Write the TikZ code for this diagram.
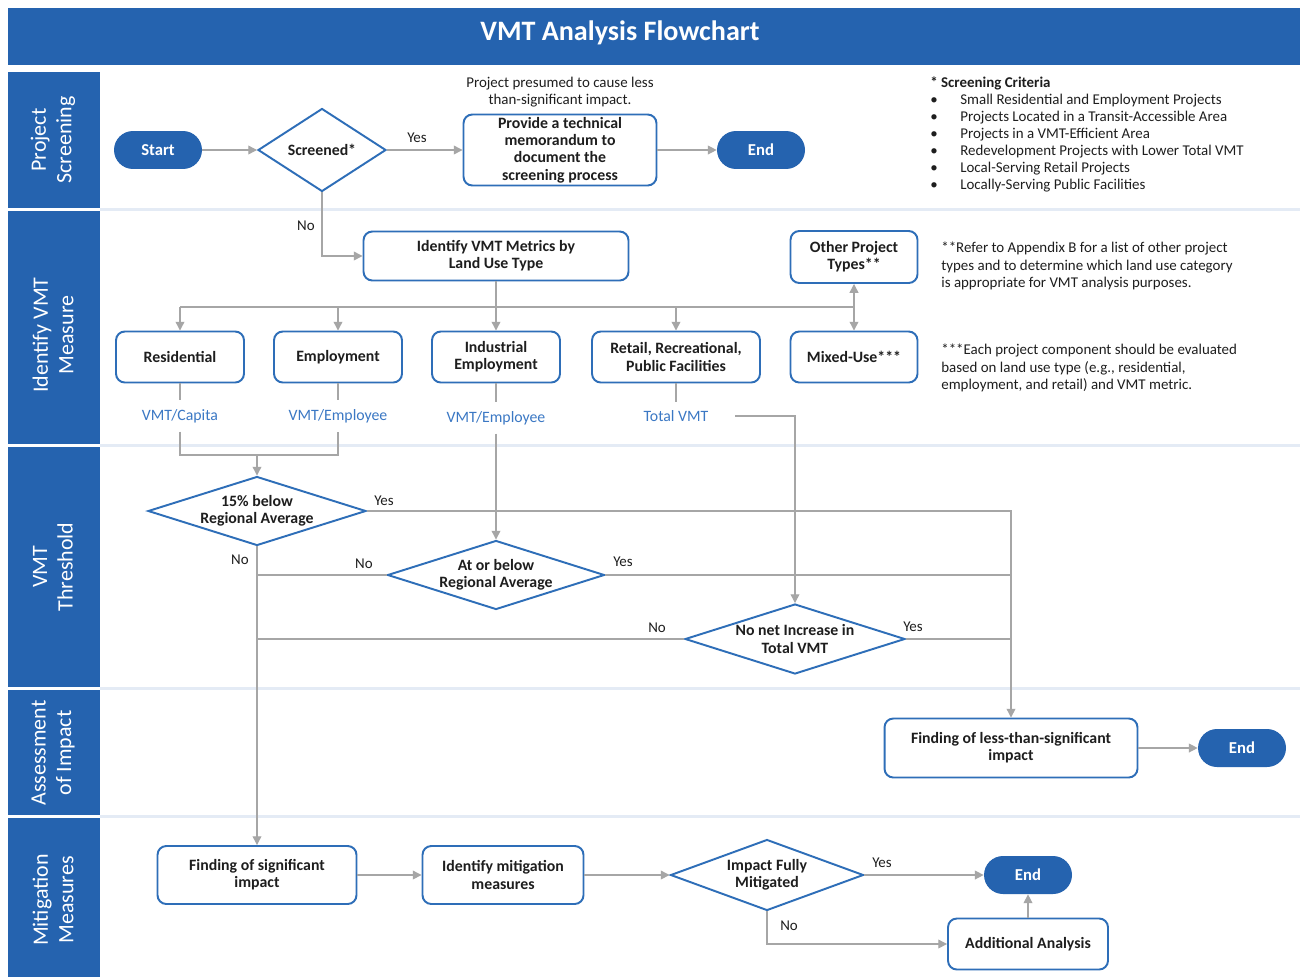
\documentclass[tikz,border=0pt]{standalone}
\usepackage{fontspec}
\setmainfont{Carlito}
\usetikzlibrary{arrows.meta,shapes.geometric}

\definecolor{barblue}{RGB}{37,99,175}
\definecolor{boxblue}{RGB}{46,110,184}
\definecolor{metricblue}{RGB}{59,120,196}
\definecolor{linegray}{RGB}{166,166,166}
\definecolor{lanerule}{RGB}{228,235,245}
\definecolor{inkdark}{RGB}{30,30,30}

\begin{document}
\begin{tikzpicture}[x=0.02cm, y=-0.02cm,
    box/.style={draw=boxblue, line width=1.1pt, rounded corners=5pt, fill=white, align=center,
      text=inkdark, font=\bfseries\fontsize{9}{9.8}\selectfont, inner sep=1pt},
    pill/.style={fill=barblue, rounded corners=0.38cm, minimum width=1.76cm, minimum height=0.76cm,
      text=white, font=\bfseries\fontsize{9.5}{11}\selectfont},
    choice/.style={diamond, draw=boxblue, line width=1.1pt, fill=white, align=center,
      text=inkdark, font=\bfseries\fontsize{9}{9.8}\selectfont, inner sep=0pt},
    wire/.style={draw=linegray, line width=0.7pt},
    conn/.style={wire, -{Triangle[length=5pt,width=5pt]}},
    twoway/.style={wire, {Triangle[length=5pt,width=5pt]}-{Triangle[length=5pt,width=5pt]}},
    lbl/.style={text=inkdark, font=\fontsize{8.5}{10}\selectfont, inner sep=1pt},
    note/.style={text=inkdark, font=\fontsize{8.5}{9.7}\selectfont, align=left, anchor=north west, inner sep=0pt},
    metric/.style={text=metricblue, font=\fontsize{9}{10}\selectfont, inner sep=1pt, outer sep=4pt},
    lanetext/.style={rotate=90, text=white, align=center, font=\fontsize{12.5}{14.5}\selectfont}
  ]
  \useasboundingbox (0,0) rectangle (1300,977);
  \fill[white] (0,0) rectangle (1300,977);

  \fill[barblue] (8,8) rectangle (1300,65);
  \node[text=white, font=\bfseries\fontsize{16}{19}\selectfont] (title) at (620,33) {VMT Analysis Flowchart};

  \fill[barblue] (8,72) rectangle (100,208);
  \fill[barblue] (8,211) rectangle (100,444);
  \fill[barblue] (8,447) rectangle (100,687);
  \fill[barblue] (8,690) rectangle (100,815);
  \fill[barblue] (8,818) rectangle (100,977);
  \node[lanetext] (lane1) at (53,140) {Project\\Screening};
  \node[lanetext] (lane2) at (53,335) {Identify VMT\\Measure};
  \node[lanetext] (lane3) at (53,567) {VMT\\Threshold};
  \node[lanetext] (lane4) at (53,753) {Assessment\\of Impact};
  \node[lanetext] (lane5) at (53,900) {Mitigation\\Measures};
  \draw[lanerule, line width=1.2pt] (100,209.5) -- (1300,209.5);
  \draw[lanerule, line width=1.2pt] (100,445.5) -- (1300,445.5);
  \draw[lanerule, line width=1.2pt] (100,688.5) -- (1300,688.5);
  \draw[lanerule, line width=1.2pt] (100,816.5) -- (1300,816.5);

  \node[pill] (start) at (158,150) {Start};
  \node[choice, minimum width=2.56cm, minimum height=1.66cm, aspect=1.54] (scr) at (322,150) {Screened*};
  \node[box, minimum width=3.86cm, minimum height=1.42cm] (memo) at (560,150) {Provide a technical\\memorandum to\\document the\\screening process};
  \node[lbl, align=center] (memonote) at (560,92) {Project presumed to cause less\\than-significant impact.};
  \node[pill] (end1) at (761,150) {End};
  \node[note] (criteria) at (930,76) {\textbf{* Screening Criteria}\\
    \makebox[0.6cm][l]{\textbullet}Small Residential and Employment Projects\\
    \makebox[0.6cm][l]{\textbullet}Projects Located in a Transit-Accessible Area\\
    \makebox[0.6cm][l]{\textbullet}Projects in a VMT-Efficient Area\\
    \makebox[0.6cm][l]{\textbullet}Redevelopment Projects with Lower Total VMT\\
    \makebox[0.6cm][l]{\textbullet}Local-Serving Retail Projects\\
    \makebox[0.6cm][l]{\textbullet}Locally-Serving Public Facilities};

  \node[box, minimum width=5.30cm, minimum height=0.98cm] (ident) at (496,256) {Identify VMT Metrics by\\Land Use Type};
  \node[box, minimum width=2.54cm, minimum height=1.04cm] (other) at (854,257) {Other Project\\Types**};
  \node[note] (note2) at (941,242) {**Refer to Appendix B for a list of other project\\types and to determine which land use category\\is appropriate for VMT analysis purposes.};
  \node[box, minimum width=2.56cm, minimum height=1.02cm] (res) at (180,357) {Residential};
  \node[box, minimum width=2.56cm, minimum height=1.02cm] (emp) at (338,357) {Employment};
  \node[box, minimum width=2.56cm, minimum height=1.02cm] (ind) at (496,357) {Industrial\\Employment};
  \node[box, minimum width=3.36cm, minimum height=1.02cm] (retail) at (676,357) {Retail, Recreational,\\Public Facilities};
  \node[box, minimum width=2.54cm, minimum height=1.02cm] (mixed) at (854,357) {Mixed-Use***};
  \node[note] (note3) at (941,344) {***Each project component should be evaluated\\based on land use type (e.g., residential,\\employment, and retail) and VMT metric.};
  \node[metric] (mres) at (180,416) {VMT/Capita};
  \node[metric] (memp) at (338,416) {VMT/Employee};
  \node[metric] (mind) at (496,418) {VMT/Employee};
  \node[metric] (mtot) at (676,416) {Total VMT};

  \node[choice, minimum width=4.36cm, minimum height=1.38cm, aspect=3.16] (d15) at (257,511) {15\% below\\Regional Average};
  \node[choice, minimum width=4.34cm, minimum height=1.38cm, aspect=3.14] (dreg) at (496,575) {At or below\\Regional Average};
  \node[choice, minimum width=4.40cm, minimum height=1.40cm, aspect=3.14] (dnet) at (795,639) {No net Increase in\\Total VMT};

  \node[box, minimum width=5.06cm, minimum height=1.18cm] (less) at (1011,748) {Finding of less-than-significant\\impact};
  \node[pill] (end2) at (1242,748) {End};

  \node[box, minimum width=3.98cm, minimum height=1.16cm] (sig) at (257,875) {Finding of significant\\impact};
  \node[box, minimum width=3.22cm, minimum height=1.16cm] (mitig) at (503,875) {Identify mitigation\\measures};
  \node[choice, minimum width=3.86cm, minimum height=1.42cm, aspect=2.72] (dfull) at (767,875) {Impact Fully\\Mitigated};
  \node[pill] (end3) at (1028,875) {End};
  \node[box, minimum width=3.20cm, minimum height=1.02cm] (addl) at (1028,944) {Additional Analysis};

  \coordinate (bus) at (496,307);
  \coordinate (join15) at (257,455);

  \draw[conn] (start) -- (scr);
  \draw[conn] (scr) -- (memo);
  \draw[conn] (memo) -- (end1);
  \draw[conn] (scr.south) |- (ident.west);
  \draw[wire] (ident.south) -- (bus);
  \draw[wire] (res.north |- bus) -- (mixed.north |- bus);
  \foreach \b in {res,emp,ind,retail}
    \draw[conn] (\b.north |- bus) -- (\b.north);
  \draw[twoway] (other.south) -- (mixed.north);
  \foreach \b/\m in {res/mres,emp/memp,ind/mind,retail/mtot}
    \draw[wire] (\b.south) -- (\m.north);
  \draw[wire] (mres.south) |- (join15) -| (memp.south);
  \draw[conn] (join15) -- (d15.north);
  \draw[conn] (mind.south) -- (dreg.north);
  \draw[conn] ([xshift=0.36cm]mtot.east) -| (dnet.north);

  \draw[conn] (d15.east) -| (less.north);
  \draw[wire] (dreg.east) -- (dreg.east -| less.north);
  \draw[wire] (dnet.east) -- (dnet.east -| less.north);
  \draw[conn] (d15.south) -- (sig.north);
  \draw[wire] (dreg.west) -- (dreg.west -| d15.south);
  \draw[wire] (dnet.west) -- (dnet.west -| d15.south);
  \draw[conn] (less) -- (end2);

  \draw[conn] (sig) -- (mitig);
  \draw[conn] (mitig) -- (dfull);
  \draw[conn] (dfull) -- (end3);
  \draw[conn] (dfull.south) |- (addl.west);
  \draw[conn] (addl) -- (end3);

  \node[lbl] (yes1) at (417,138) {Yes};
  \node[lbl] (no1) at (306,226) {No};
  \node[lbl] (yes2) at (384,501) {Yes};
  \node[lbl] (no2) at (240,560) {No};
  \node[lbl] (no3) at (364,564) {No};
  \node[lbl] (yes3) at (623,562) {Yes};
  \node[lbl] (no4) at (657,628) {No};
  \node[lbl] (yes4) at (913,627) {Yes};
  \node[lbl] (yes5) at (882,863) {Yes};
  \node[lbl] (no5) at (789,926) {No};
\end{tikzpicture}
\end{document}
